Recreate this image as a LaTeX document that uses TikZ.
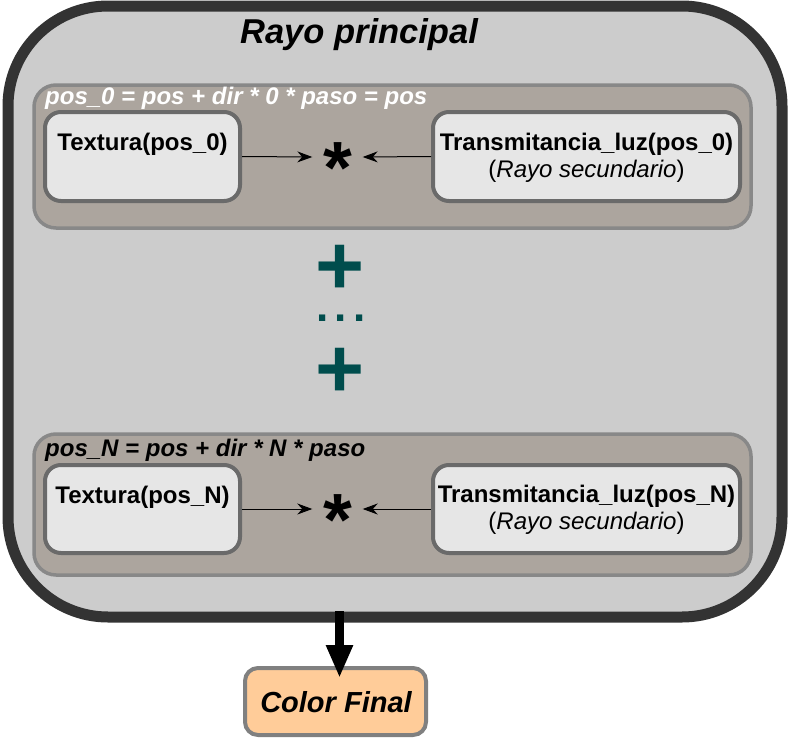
\documentclass[tikz,border=0pt]{standalone}
\usepackage{fontspec}
\setmainfont{Liberation Sans}
\usetikzlibrary{arrows.meta}
\definecolor{outerfill}{HTML}{CCCCCC}
\definecolor{outerdraw}{HTML}{333333}
\definecolor{grpfill}{HTML}{ACA59E}
\definecolor{grpdraw}{HTML}{888888}
\definecolor{boxfill}{HTML}{E6E6E6}
\definecolor{boxdraw}{HTML}{6A6A6A}
\definecolor{plusc}{HTML}{004D4D}
\definecolor{finalfill}{HTML}{FFCC99}
\definecolor{finaldraw}{HTML}{808080}
\tikzset{
  outerbox/.style={draw=outerdraw,fill=outerfill,line width=11pt,rounded corners=100pt,minimum width=774pt,minimum height=611pt,inner sep=0pt},
  grpbox/.style={draw=grpdraw,fill=grpfill,line width=3.5pt,rounded corners=22pt,minimum width=717pt,minimum height=143pt,inner sep=0pt},
  texbox/.style={draw=boxdraw,fill=boxfill,line width=4pt,rounded corners=16pt,minimum width=195pt,minimum height=89pt,inner sep=0pt},
  trbox/.style={draw=boxdraw,fill=boxfill,line width=4pt,rounded corners=16pt,minimum width=307pt,minimum height=89pt,inner sep=0pt},
  finalbox/.style={draw=finaldraw,fill=finalfill,line width=4pt,rounded corners=13pt,minimum width=181pt,minimum height=67pt,inner sep=0pt},
  boxtext/.style={font=\fontsize{24}{27.5}\selectfont,align=center,inner sep=0pt},
  grplabel/.style={font=\fontsize{24}{28}\selectfont\bfseries\itshape,anchor=west,inner sep=0pt},
  astbox/.style={minimum width=50pt,text height=73pt,text depth=0pt,inner sep=0pt,font=\fontsize{74}{74}\selectfont\bfseries},
  plusnode/.style={text=plusc,inner sep=0pt,font=\fontsize{84}{84}\selectfont\bfseries},
  dotsnode/.style={text=plusc,inner sep=0pt,text height=6pt,text depth=0pt,font=\fontsize{44}{44}\selectfont\bfseries},
  thinarrow/.style={line width=1pt,-{Stealth[length=15pt,width=11pt]}},
  bigarrow/.style={line width=9pt,-{Triangle[length=33pt,width=25pt]}}
}
\begin{document}
\begin{tikzpicture}[x=1pt,y=-1pt]
\useasboundingbox (0,0) rectangle (788,739);
% outer box
\node[outerbox] (outer) at (395,311.5) {};
\node[font=\fontsize{34.5}{40}\selectfont\bfseries\itshape,inner sep=0pt] (title) at (359,35) {Rayo principal};
% group 1
\node[grpbox] (g0) at (392.5,156.5) {};
\node[grplabel,text=white] (l0) at (45,98) {pos\_0 = pos + dir * 0 * paso = pos};
\node[texbox] (tex0) at (142.5,156.5) {};
\node[boxtext] (tex0t) at (142.5,144) {\bfseries Textura(pos\_0)};
\node[trbox] (tr0) at (586.5,156.5) {};
\node[boxtext] (tr0t) at (586.5,158) {\bfseries Transmitancia\_luz(pos\_0)\\(\textit{Rayo secundario})};
\node[astbox] (ast0) at (337.5,157) {*};
\draw[thinarrow] (tex0.east) -- (ast0.west);
\draw[thinarrow] (tr0.west) -- (ast0.east);
% plus signs
\node[plusnode] (p1) at (340,270) {+};
\node[dotsnode] (dots) at (341,318) {.\hspace{6pt}.\hspace{6pt}.};
\node[plusnode] (p2) at (340,373) {+};
% group N
\node[grpbox,minimum height=141pt] (gN) at (392.5,504.5) {};
\node[grplabel,text=black] (lN) at (45,450) {pos\_N = pos + dir * N * paso};
\node[texbox,minimum height=88pt] (texN) at (142.5,509) {};
\node[boxtext] (texNt) at (142.5,497) {\bfseries Textura(pos\_N)};
\node[trbox,minimum height=88pt] (trN) at (586.5,509) {};
\node[boxtext] (trNt) at (586.5,510) {\bfseries Transmitancia\_luz(pos\_N)\\(\textit{Rayo secundario})};
\node[astbox] (astN) at (337.5,509) {*};
\draw[thinarrow] (texN.east) -- (astN.west);
\draw[thinarrow] (trN.west) -- (astN.east);
% final
\node[finalbox] (cf) at (335.5,701.5) {};
\node[font=\fontsize{29}{34}\selectfont\bfseries\itshape,inner sep=0pt] (cft) at (336,702) {Color Final};
\coordinate (src) at (339.5,611);
\draw[bigarrow] (src) -- ([xshift=4pt,yshift=-12pt]cf.north);
\end{tikzpicture}
\end{document}
